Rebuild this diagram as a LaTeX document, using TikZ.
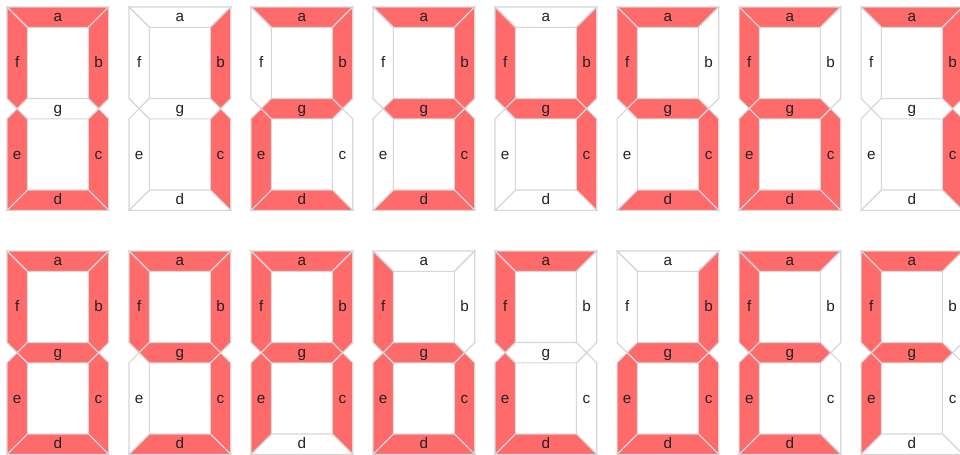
\documentclass[tikz,border=0pt]{standalone}
\usepackage{fontspec}
\setmainfont{Liberation Sans}
\definecolor{segred}{RGB}{255,107,107}
\definecolor{seggray}{RGB}{214,214,214}
\definecolor{lbltext}{RGB}{34,34,34}
\tikzset{
  seg1/.style={fill=segred, draw=seggray, line width=1.1pt, line join=miter},
  seg0/.style={fill=white, draw=seggray, line width=1.1pt, line join=miter},
  lbl/.style={anchor=base, inner sep=0pt, text=lbltext, font=\fontsize{15}{18}\selectfont}
}
\begin{document}
\begin{tikzpicture}[x=1pt,y=-1pt]
\fill[white] (-6.9,-6.9) rectangle (937.3,440.6);
\useasboundingbox (-6.9,-6.9) rectangle (937.3,440.6);
\foreach \n/\xo/\yo/\A/\B/\C/\D/\E/\F/\G in {
  0/0/0/1/1/1/1/1/1/0,
  1/120/0/0/1/1/0/0/0/0,
  2/240/0/1/1/0/1/1/0/1,
  3/360/0/1/1/1/1/0/0/1,
  4/480/0/0/1/1/0/0/1/1,
  5/600/0/1/0/1/1/0/1/1,
  6/720/0/1/0/1/1/1/1/1,
  7/840/0/1/1/1/0/0/0/0,
  8/0/240/1/1/1/1/1/1/1,
  9/120/240/1/1/1/1/0/1/1,
  10/240/240/1/1/1/0/1/1/1,
  11/360/240/0/0/1/1/1/1/1,
  12/480/240/1/0/0/1/1/1/0,
  13/600/240/0/1/1/1/1/0/1,
  14/720/240/1/0/0/1/1/1/1,
  15/840/240/1/0/0/0/1/1/1}
{
  \begin{scope}[shift={(\xo,\yo)}, name prefix=dig\n-]
    \path[seg\A] (0,0) -- (100,0) -- (80,20) -- (20,20) -- cycle;
    \path[seg\B] (100,0) -- (100,90) -- (90,100) -- (80,90) -- (80,20) -- cycle;
    \path[seg\C] (90,100) -- (100,110) -- (100,200) -- (80,180) -- (80,110) -- cycle;
    \path[seg\D] (0,200) -- (100,200) -- (80,180) -- (20,180) -- cycle;
    \path[seg\E] (0,110) -- (10,100) -- (20,110) -- (20,180) -- (0,200) -- cycle;
    \path[seg\F] (0,0) -- (20,20) -- (20,90) -- (10,100) -- (0,90) -- cycle;
    \path[seg\G] (10,100) -- (20,90) -- (80,90) -- (90,100) -- (80,110) -- (20,110) -- cycle;
    \node[lbl] (la) at (50,14.5) {a};
    \node[lbl] (lb) at (90,59.5) {b};
    \node[lbl] (lc) at (90,149.5) {c};
    \node[lbl] (ld) at (50,194.5) {d};
    \node[lbl] (le) at (10,149.5) {e};
    \node[lbl] (lf) at (10,59.5) {f};
    \node[lbl] (lg) at (50,104.5) {g};
  \end{scope}
}
\end{tikzpicture}
\end{document}
